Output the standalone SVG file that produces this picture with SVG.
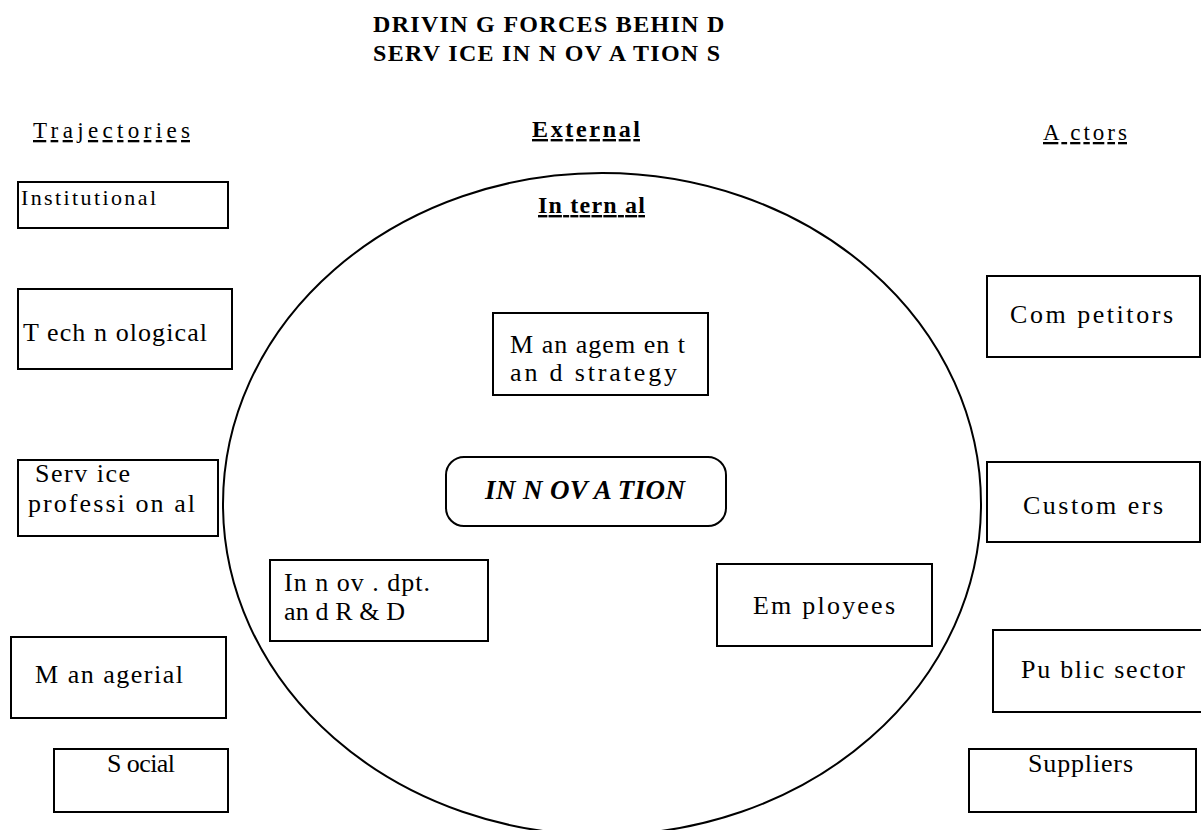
<svg xmlns="http://www.w3.org/2000/svg" width="1201" height="830" viewBox="0 0 1201 830">
<style>
text{font-family:"Liberation Serif","Times New Roman",serif;fill:#000;}
.box{fill:#fff;stroke:#000;stroke-width:2;}
.t{font-size:26px;}
.s{font-size:22px;}
.h{font-size:23px;text-decoration:underline;}
.hb{font-size:24px;font-weight:bold;text-decoration:underline;}
.title{font-size:24px;font-weight:bold;letter-spacing:1.3px;}
</style>
<rect width="1201" height="830" fill="#fff"/>
<g id="title">
<text class="title" x="373" y="32">DRIVIN G FORCES BEHIN D</text>
<text class="title" x="373" y="61">SERV ICE IN N OV A TION S</text>
</g>
<g id="headings">
<text class="h" x="33" y="138" textLength="157" lengthAdjust="spacing">Trajectories</text>
<text class="hb" x="532" y="137" textLength="108" lengthAdjust="spacing">External</text>
<text class="h" x="1043" y="140" textLength="84" lengthAdjust="spacing">A ctors</text>
</g>
<g id="boundary">
<ellipse cx="602" cy="504" rx="379" ry="331" fill="none" stroke="#000" stroke-width="2"/>
<text class="hb" x="538" y="213" textLength="107" lengthAdjust="spacing">In tern al</text>
</g>
<g id="connectors"></g>
<g id="institutional"><rect class="box" x="18" y="182" width="210" height="46"/><text class="s" x="21" y="205" textLength="135" lengthAdjust="spacing">Institutional</text></g>
<g id="technological"><rect class="box" x="18" y="289" width="214" height="80"/><text class="t" x="23" y="341" textLength="184" lengthAdjust="spacing">T ech n ological</text></g>
<g id="service-professional"><rect class="box" x="18" y="460" width="200" height="76"/><text class="t" x="35" y="482" textLength="95" lengthAdjust="spacing">Serv ice</text><text class="t" x="28" y="512" textLength="167" lengthAdjust="spacing">professi on al</text></g>
<g id="managerial"><rect class="box" x="11" y="637" width="215" height="81"/><text class="t" x="35" y="683" textLength="148" lengthAdjust="spacing">M an agerial</text></g>
<g id="social"><rect class="box" x="54" y="749" width="174" height="63"/><text class="t" x="107" y="772" textLength="68" lengthAdjust="spacing">S ocial</text></g>
<g id="management"><rect class="box" x="493" y="313" width="215" height="82"/><text class="t" x="510" y="353" textLength="175" lengthAdjust="spacing">M an agem en t</text><text class="t" x="510" y="381" textLength="167" lengthAdjust="spacing">an d strategy</text></g>
<g id="innovation"><rect class="box" x="446" y="457" width="280" height="69" rx="18"/><text x="485" y="499" font-size="27" font-weight="bold" font-style="italic" textLength="200" lengthAdjust="spacing">IN N OV A TION</text></g>
<g id="innov-dpt"><rect class="box" x="270" y="560" width="218" height="81"/><text class="t" x="284" y="591" textLength="146" lengthAdjust="spacing">In n ov . dpt.</text><text class="t" x="284" y="620" textLength="121" lengthAdjust="spacing">an d R &amp; D</text></g>
<g id="employees"><rect class="box" x="717" y="564" width="215" height="82"/><text class="t" x="753" y="614" textLength="142" lengthAdjust="spacing">Em ployees</text></g>
<g id="competitors"><rect class="box" x="987" y="276" width="213" height="81"/><text class="t" x="1010" y="323" textLength="163" lengthAdjust="spacing">Com petitors</text></g>
<g id="customers"><rect class="box" x="987" y="462" width="213" height="80"/><text class="t" x="1023" y="514" textLength="140" lengthAdjust="spacing">Custom ers</text></g>
<g id="public-sector"><rect class="box" x="993" y="630" width="210" height="82"/><text class="t" x="1021" y="678" textLength="164" lengthAdjust="spacing">Pu blic sector</text></g>
<g id="suppliers"><rect class="box" x="969" y="749" width="227" height="63"/><text class="t" x="1028" y="772" textLength="105" lengthAdjust="spacing">Suppliers</text></g>
</svg>
